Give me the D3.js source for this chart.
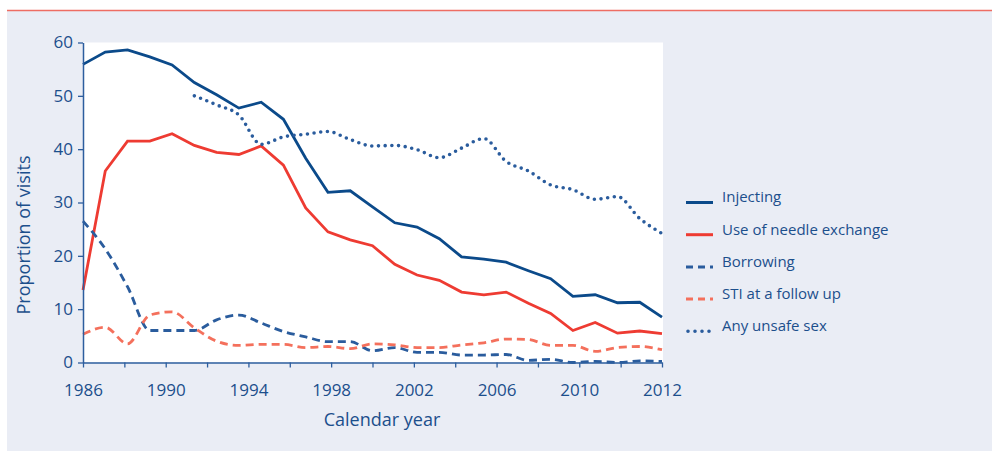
<!DOCTYPE html>
<html>
<head>
<meta charset="utf-8">
<script src="https://cdn.jsdelivr.net/npm/d3@7/dist/d3.min.js"></script>
<style>
  html, body { margin: 0; padding: 0; background: #ffffff; }
  svg { display: block; font-family: "Open Sans", "Noto Sans", sans-serif; }
</style>
</head>
<body>
<svg id="chart" width="996" height="453"></svg>
<script>
// Calendar years (one observation per year)
const years = [1986, 1987, 1988, 1989, 1990, 1991, 1992, 1993, 1994, 1995, 1996, 1997, 1998, 1999,
               2000, 2001, 2002, 2003, 2004, 2005, 2006, 2007, 2008, 2009, 2010, 2011, 2012];

// Proportion of visits (%) per behaviour
const injecting = [55.9, 58.2, 58.6, 57.3, 55.8, 52.5, 50.2, 47.7, 48.8, 45.6, 38.3, 31.9, 32.2, 29.2,
                   26.2, 25.4, 23.2, 19.8, 19.4, 18.8, 17.2, 15.7, 12.4, 12.7, 11.2, 11.3, 8.5];
const needleExchange = [13.6, 35.9, 41.5, 41.5, 42.9, 40.7, 39.4, 39.0, 40.6, 37.0, 29.0, 24.5, 23.0, 21.9,
                        18.4, 16.4, 15.4, 13.2, 12.7, 13.2, 11.1, 9.2, 6.0, 7.5, 5.5, 5.9, 5.4];
const borrowing = [26.5, 21.3, 14.2, 6.0, 6.0, 6.0, 8.0, 8.9, 7.4, 5.8, 4.8, 3.9, 3.9, 2.2,
                   2.8, 1.9, 1.9, 1.4, 1.4, 1.5, 0.4, 0.6, 0.0, 0.2, 0.0, 0.3, 0.2];
const stiFollowUp = [5.3, 6.6, 3.5, 8.9, 9.5, 6.5, 4.0, 3.2, 3.4, 3.4, 2.8, 3.0, 2.6, 3.5,
                     3.3, 2.8, 2.8, 3.3, 3.7, 4.4, 4.3, 3.2, 3.2, 2.1, 2.8, 3.0, 2.4];
const unsafeSex = [null, null, null, null, null, 50.0, 48.3, 46.4, 40.9, 42.3, 42.8, 43.3, 41.8, 40.6,
                   40.7, 39.9, 38.4, 40.2, 42.0, 37.7, 35.9, 33.3, 32.4, 30.6, 31.1, 27.0, 24.2];

// Axis labels
const xTickLabels = ["1986", "1990", "1994", "1998", "2002", "2006", "2010", "2012"];
const yTicks = [0, 10, 20, 30, 40, 50, 60];
const seriesNames = ["Injecting", "Use of needle exchange", "Borrowing", "STI at a follow up", "Any unsafe sex"];

const styles = [
  { color: "#0b4a8a", width: 2.8, dash: null, curve: d3.curveLinear },
  { color: "#ee3b32", width: 2.8, dash: null, curve: d3.curveLinear },
  { color: "#2a5c9d", width: 2.8, dash: "8 5", curve: d3.curveMonotoneX },
  { color: "#f4705c", width: 2.8, dash: "8 5", curve: d3.curveMonotoneX },
  { color: "#2a5c9d", width: 3.6, dash: "0 6.7", curve: d3.curveMonotoneX, round: true }
];
const seriesValues = [injecting, needleExchange, borrowing, stiFollowUp, unsafeSex];

const textColor = "#1c4f8c";
const axisColor = "#2d5e9e";

const svg = d3.select("#chart");

// Panel background and top rule
svg.append("rect").attr("x", 7).attr("y", 11).attr("width", 985).attr("height", 440).attr("fill", "#eaedf5");
svg.append("line").attr("x1", 7).attr("x2", 992).attr("y1", 10.5).attr("y2", 10.5)
  .attr("stroke", "#ee6d63").attr("stroke-width", 1.6);

const plotLeft = 83, plotRight = 662, plotTop = 42.5, plotBottom = 362.5;

const x = d3.scaleLinear().domain([years[0], years[years.length - 1]]).range([plotLeft, plotRight]);
const y = d3.scaleLinear().domain([0, 60]).range([plotBottom, plotTop]);

// Plot area
svg.append("rect").attr("x", plotLeft).attr("y", plotTop)
  .attr("width", plotRight - plotLeft + 1).attr("height", plotBottom - plotTop)
  .attr("fill", "#ffffff");

// Lines
const g = svg.append("g");
seriesValues.forEach((vals, i) => {
  const st = styles[i];
  const line = d3.line()
    .defined(d => d.v !== null)
    .x(d => x(d.year))
    .y(d => y(d.v))
    .curve(st.curve);
  g.append("path")
    .datum(years.map((yr, k) => ({ year: yr, v: vals[k] })))
    .attr("d", line)
    .attr("fill", "none")
    .attr("stroke", st.color)
    .attr("stroke-width", st.width)
    .attr("stroke-dasharray", st.dash)
    .attr("stroke-linecap", st.round ? "round" : "butt")
    .attr("stroke-linejoin", "miter");
});

// X axis: 15 evenly spaced ticks, labelled at every other tick
const xTickScale = d3.scaleLinear().domain([0, 14]).range([plotLeft, plotRight]);
const xAxis = d3.axisBottom(xTickScale)
  .tickValues(d3.range(15))
  .tickSize(5)
  .tickSizeOuter(0)
  .tickFormat(i => (i % 2 === 0 ? xTickLabels[i / 2] : ""));
const gx = svg.append("g").attr("transform", `translate(0,${plotBottom})`).call(xAxis);
gx.select(".domain").attr("stroke", axisColor).attr("stroke-width", 1.5);
gx.selectAll(".tick line").attr("stroke", axisColor).attr("stroke-width", 1.3);
gx.selectAll(".tick text").attr("fill", textColor).attr("font-size", 17)
  .attr("font-family", "Open Sans").attr("dy", "1.5em");

// Y axis
const yAxis = d3.axisLeft(y).tickValues(yTicks).tickSize(5).tickSizeOuter(0).tickFormat(d3.format("d"));
const gy = svg.append("g").attr("transform", `translate(${plotLeft},0)`).call(yAxis);
gy.select(".domain").attr("stroke", axisColor).attr("stroke-width", 1.5);
gy.selectAll(".tick line").attr("stroke", axisColor).attr("stroke-width", 1.3);
gy.selectAll(".tick text").attr("fill", textColor).attr("font-size", 17)
  .attr("font-family", "Open Sans").attr("x", -10);

// Axis titles
svg.append("text").attr("x", 382).attr("y", 426).attr("text-anchor", "middle")
  .attr("fill", textColor).attr("font-size", 18).text("Calendar year");
svg.append("text").attr("transform", "translate(30,235) rotate(-90)").attr("text-anchor", "middle")
  .attr("fill", textColor).attr("font-size", 18).text("Proportion of visits");

// Legend
const legend = svg.append("g");
seriesNames.forEach((name, i) => {
  const st = styles[i];
  const ly = 202.5 + i * 32.2;
  legend.append("line")
    .attr("x1", st.round ? 688 : 686).attr("x2", 713)
    .attr("y1", ly).attr("y2", ly)
    .attr("stroke", st.color)
    .attr("stroke-width", st.round ? 3.6 : 3)
    .attr("stroke-dasharray", st.dash ? (st.round ? "0 7" : "7 5") : null)
    .attr("stroke-linecap", st.round ? "round" : "butt");
  legend.append("text").attr("x", 722).attr("y", ly - 5).attr("dy", "0.32em")
    .attr("fill", textColor).attr("font-size", 15).text(name);
});
</script>
</body>
</html>
